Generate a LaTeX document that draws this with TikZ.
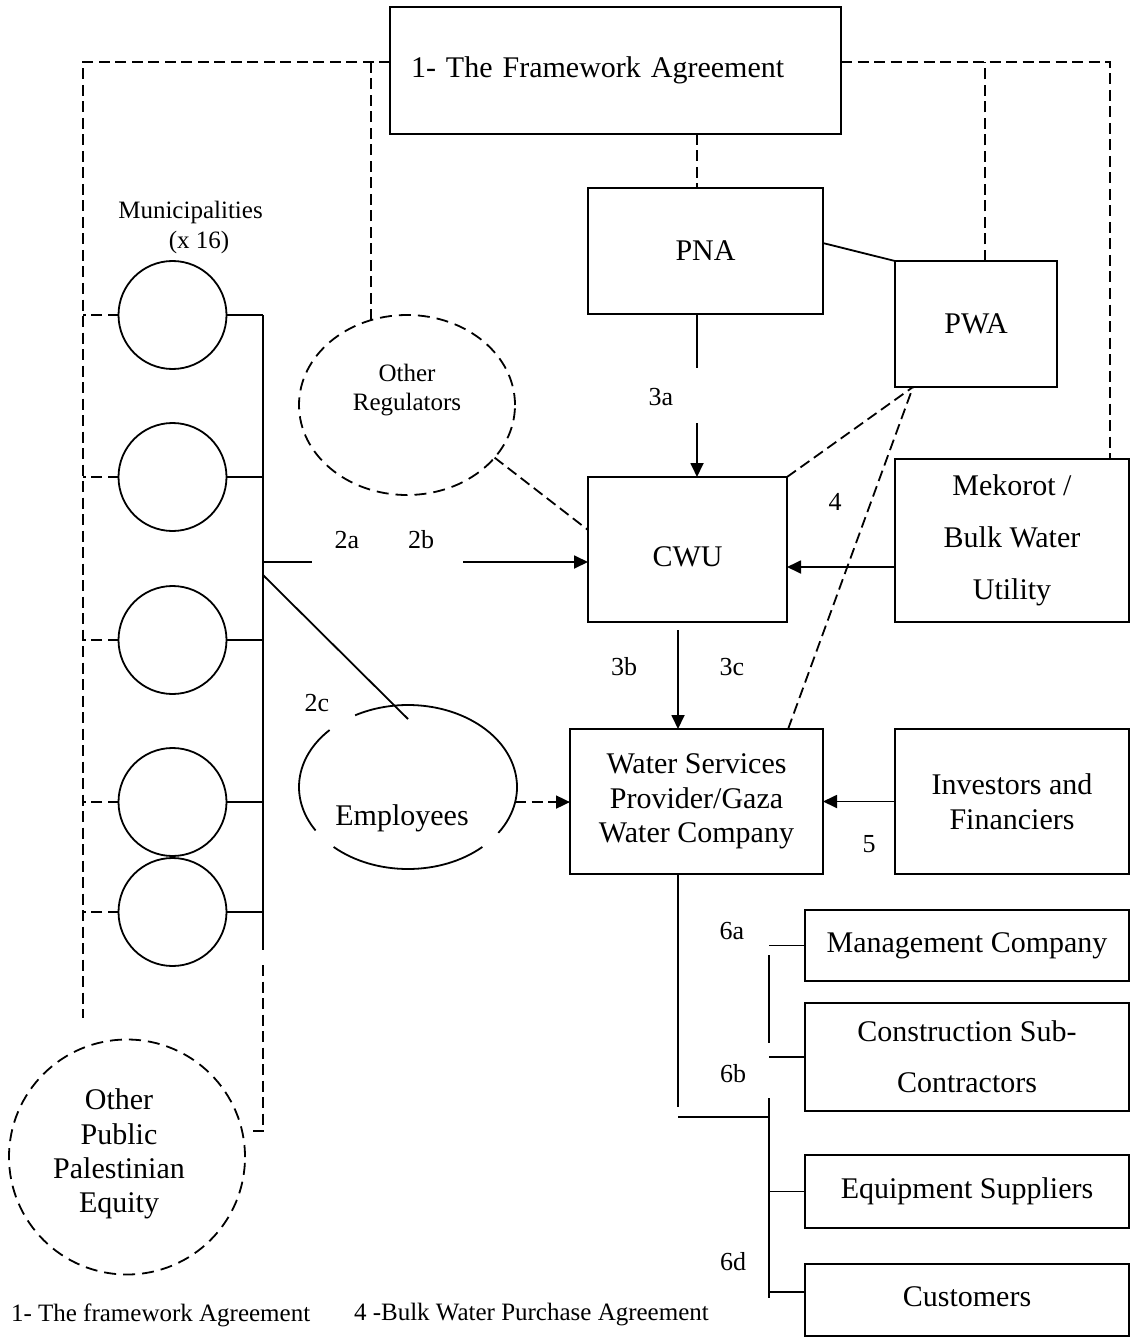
\documentclass[tikz,border=0pt]{standalone}
\usepackage{fontspec}
\setmainfont{Liberation Serif}
\usetikzlibrary{shapes.geometric,arrows.meta,calc}

\begin{document}
\begin{tikzpicture}[x=1pt,y=-1pt,
  line width=1.8pt,
  every node/.style={inner sep=0pt, outer sep=0pt},
  box/.style={draw, rectangle, line width=1.8pt, font=\fontsize{30}{34}\selectfont, align=center},
  muni/.style={draw, circle, minimum size=108pt},
  lbl/.style={font=\fontsize{26}{30}\selectfont},
  smalltext/.style={font=\fontsize{25}{29.5}\selectfont, align=center},
  bigtext/.style={font=\fontsize{30}{34.3}\selectfont, align=center},
  dsh/.style={dash pattern=on 11pt off 5.5pt},
  dshc/.style={dash pattern=on 12pt off 7pt},
  arr/.style={-{Triangle[length=14pt,width=13pt]}},
]
\fill[white] (0,0) rectangle (1130,1337);
\useasboundingbox (0,0) rectangle (1130,1337);

% reference coordinates for routing
\coordinate (ytop) at (0,62);
\coordinate (xl) at (83,0);
\coordinate (xR) at (1110,0);
\coordinate (xP) at (985,0);
\coordinate (xA) at (697,0);
\coordinate (xQ) at (913,0);
\coordinate (bx) at (263,0);

% ---------- boxes ----------
\node[box, minimum width=451pt, minimum height=127pt, text width=409pt, align=left] (fw) at (615.5,70.5) {1- The Framework Agreement};
\node[box, minimum width=235pt, minimum height=126pt] (pna) at (705.5,251) {PNA};
\node[box, minimum width=162pt, minimum height=126pt] (pwa) at (976,324) {PWA};
\node[box, minimum width=199pt, minimum height=145pt, text height=34pt] (cwu) at (687.5,549.5) {CWU};
\node[box, minimum width=234pt, minimum height=163pt, font=\fontsize{30}{52}\selectfont] (mek) at (1012,540.5) {Mekorot /\\Bulk Water\\Utility};
\node[box, minimum width=253pt, minimum height=145pt, font=\fontsize{30}{34.5}\selectfont] (wsp) at (696.5,801.5) {Water Services\\Provider/Gaza\\Water Company};
\node[box, minimum width=234pt, minimum height=145pt, font=\fontsize{30}{35}\selectfont] (inv) at (1012,801.5) {Investors and\\Financiers};
\node[box, minimum width=324pt, minimum height=71pt] (mgmt) at (967,945.5) {Management Company};
\node[box, minimum width=324pt, minimum height=108pt, font=\fontsize{30}{51}\selectfont] (cons) at (967,1057) {Construction Sub-\\Contractors};
\node[box, minimum width=324pt, minimum height=73pt] (equip) at (967,1191.5) {Equipment Suppliers};
\node[box, minimum width=324pt, minimum height=72pt, text height=14pt] (cust) at (967,1300) {Customers};

% ---------- municipalities ----------
\node[smalltext] (munA) at (190.5,212) {Municipalities};
\node[smalltext] (munB) at (199,242) {(x 16)};
\node[muni] (m1) at (172.5,315) {};
\node[muni] (m2) at (172.5,477) {};
\node[muni] (m3) at (172.5,640) {};
\node[muni] (m4) at (172.5,802) {};
\node[muni] (m5) at (172.5,912) {};

% ---------- ellipses ----------
\node[draw, ellipse, dshc, minimum width=216pt, minimum height=180pt] (oreg) at (407,405) {};
\node[smalltext] (oregt) at (407,390) {Other\\Regulators};

\node[draw, ellipse, dshc, minimum width=236pt, minimum height=235pt] (opub) at (127,1157) {};
\node[bigtext] (opubt) at (119,1154) {Other\\Public\\Palestinian\\Equity};

\node[ellipse, minimum width=218pt, minimum height=164pt] (emp) at (408,787) {};
\draw (emp.center) ++(-34:109pt and 82pt) arc[start angle=-34, end angle=119, x radius=109pt, y radius=82pt];
\draw (emp.center) ++(136:109pt and 82pt) arc[start angle=136, end angle=212, x radius=109pt, y radius=82pt];
\draw (emp.center) ++(227:109pt and 82pt) arc[start angle=227, end angle=313, x radius=109pt, y radius=82pt];
\node[bigtext] (empt) at (402,818) {Employees};

% ---------- framework links (dashed) ----------
\draw[dsh] (fw.west |- ytop) -| (xl |- 0,1018);
\draw[dsh] (oreg.113) -- (oreg.113 |- ytop);
\draw[dsh] (fw.east |- ytop) -| (mek.north -| xR);
\draw[dsh] (pwa.north -| xP) -- (xP |- ytop);
\draw[dsh] (fw.south -| xA) -- (pna.north -| xA);

% ---------- PNA / PWA / CWU ----------
\draw ($(pna.north east)!0.437!(pna.south east)$) -- (pwa.north west);
\coordinate (a3e) at (697,368);
\coordinate (a3s) at (697,423);
\draw (pna.south -| a3e) -- (a3e);
\draw[arr] (a3s) -- (cwu.north -| a3s);
\node[lbl] (l3a) at (661,397) {3a};

\draw[dsh] (cwu.north east) -- (pwa.south -| xQ);
\draw[dsh] ($(wsp.north west)!0.862!(wsp.north east)$) -- (pwa.south -| xQ);
\node[lbl] (l4) at (835,502) {4};

\coordinate (ymk) at (0,567);
\draw[arr] (mek.west |- ymk) -- (cwu.east |- ymk);

\draw[dsh] (oreg.-31) -- (cwu.west |- 0,530);

% ---------- municipalities bus ----------
\foreach \m in {m1,m2,m3,m4,m5}{
  \draw (\m.east) -- (\m.east -| bx);
  \draw[dsh] (\m.west) -- (\m.west -| xl);
}
\draw (m1.east -| bx) -- (bx |- 0,950);
\draw[dsh] (bx |- 0,965) -- (bx |- 0,1131) -- (251,1131);

\coordinate (b2) at (263,562);
\coordinate (b2e) at (312,562);
\coordinate (b2s) at (463,562);
\draw (b2) -- (b2e);
\draw[arr] (b2s) -- (cwu.west |- b2s);
\node[lbl] (l2a) at (347,540) {2a};
\node[lbl] (l2b) at (421,540) {2b};

\coordinate (c2s) at (263,575);
\coordinate (c2e) at (408,719);
\draw (c2s) -- (c2e);
\node[lbl] (l2c) at (317,703) {2c};

\draw[dsh, arr] (emp.-8) -- (wsp.west |- emp.-8);

% ---------- CWU -> WSP ----------
\coordinate (a3b) at (678,630);
\draw[arr] (a3b) -- (wsp.north -| a3b);
\node[lbl] (l3b) at (624,667) {3b};
\node[lbl] (l3c) at (732,667) {3c};

\draw[arr] (inv.west) -- (wsp.east);
\node[lbl] (l5) at (869,844) {5};

% ---------- contracts branch ----------
\coordinate (w1) at (678,1107);
\coordinate (w2) at (678,1117);
\coordinate (w3) at (769,1117);
\draw (wsp.south -| w1) -- (w1);
\draw (w2) -- (w3);
\coordinate (v6) at (769,0);
\draw (v6 |- 0,955) -- (v6 |- 0,1043);
\draw (v6 |- 0,1098) -- (v6 |- 0,1298);
\draw (mgmt.west -| v6) -- (mgmt.west);
\draw (cons.west -| v6) -- (cons.west);
\draw (equip.west -| v6) -- (equip.west);
\draw (v6 |- 0,1292) -- (cust.west |- 0,1292);
\node[lbl] (l6a) at (732,931) {6a};
\node[lbl] (l6b) at (733,1074) {6b};
\node[lbl] (l6d) at (733,1262) {6d};

% ---------- legend ----------
\node[font=\fontsize{25}{30}\selectfont, anchor=west] (leg1) at (11,1315) {1- The framework Agreement};
\node[font=\fontsize{25}{30}\selectfont, anchor=west] (leg2) at (354,1315) {4 -Bulk Water Purchase Agreement};
\end{tikzpicture}
\end{document}
